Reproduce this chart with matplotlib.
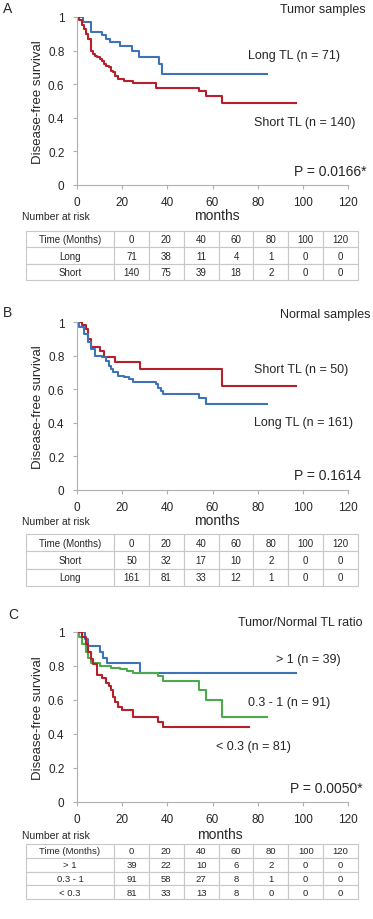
import matplotlib.pyplot as plt

plt.rcParams['font.family'] = ['Liberation Sans', 'DejaVu Sans']

# ---- data ----
# Panel A: tumor samples
a_long_t = [0, 2.5, 6, 11, 13, 14.5, 19, 24.5, 27.5, 36.5, 37.5, 84]
a_long_s = [1, 0.97, 0.91, 0.89, 0.87, 0.85, 0.83, 0.80, 0.76, 0.72, 0.66, 0.66]
a_short_t = [0, 1, 2, 3, 4, 5, 6, 7, 8, 9, 10, 11, 12, 13, 14, 15, 16, 17, 18,
             21, 25, 35, 54, 57, 64, 97]
a_short_s = [1, 0.98, 0.95, 0.93, 0.90, 0.87, 0.80, 0.78, 0.77, 0.76, 0.75, 0.74,
             0.72, 0.71, 0.70, 0.68, 0.67, 0.65, 0.63, 0.62, 0.61, 0.58, 0.56,
             0.53, 0.49, 0.49]

# Panel B: normal samples
b_short_t = [0, 2, 4, 5, 6, 10, 12, 17, 28, 64, 97]
b_short_s = [1, 0.98, 0.96, 0.90, 0.85, 0.83, 0.79, 0.76, 0.72, 0.62, 0.62]
b_long_t = [0, 1, 3, 5, 6, 8, 11, 13, 14, 15, 16, 18, 21, 23, 25, 35, 36, 37, 38,
            54, 57, 84]
b_long_s = [1, 0.97, 0.93, 0.88, 0.84, 0.80, 0.79, 0.77, 0.74, 0.72, 0.70, 0.68,
            0.67, 0.66, 0.64, 0.63, 0.61, 0.59, 0.57, 0.55, 0.51, 0.51]

# Panel C: tumor/normal TL ratio
c_hi_t = [0, 3.5, 5, 10, 11.5, 13.5, 28, 97]
c_hi_s = [1, 0.96, 0.92, 0.88, 0.85, 0.82, 0.76, 0.76]
c_mid_t = [0, 1, 2, 4, 5, 6, 10, 15, 19, 22, 25, 36, 38, 54, 57, 64, 84]
c_mid_s = [1, 0.97, 0.93, 0.88, 0.85, 0.82, 0.80, 0.79, 0.78, 0.77, 0.76, 0.74,
           0.71, 0.66, 0.60, 0.50, 0.50]
c_lo_t = [0, 2, 4, 5, 6, 7, 9, 11, 13, 14, 15, 16, 17, 18, 20, 25, 36, 38, 76]
c_lo_s = [1, 0.97, 0.93, 0.88, 0.84, 0.81, 0.75, 0.73, 0.70, 0.68, 0.66, 0.62,
          0.59, 0.56, 0.54, 0.50, 0.47, 0.44, 0.44]

# numbers at risk
risk_times = ['0', '20', '40', '60', '80', '100', '120']
a_risk_names = ['Long', 'Short']
a_risk = [[71, 38, 11, 4, 1, 0, 0], [140, 75, 39, 18, 2, 0, 0]]
b_risk_names = ['Short', 'Long']
b_risk = [[50, 32, 17, 10, 2, 0, 0], [161, 81, 33, 12, 1, 0, 0]]
c_risk_names = ['> 1', '0.3 - 1', '< 0.3']
c_risk = [[39, 22, 10, 6, 2, 0, 0], [91, 58, 27, 8, 1, 0, 0], [81, 33, 13, 8, 0, 0, 0]]

BLUE = '#3f73b8'
RED = '#b5202b'
GREEN = '#4caa4c'
TXT = '#262626'
GRID = '#b0b0b0'

W, H = 373, 920
fig = plt.figure(figsize=(W / 100, H / 100), dpi=100)


def fx(px):
    return px / W


def fy(py):
    return 1 - py / H


def km_axes(top, bottom):
    ax = fig.add_axes([fx(77), fy(bottom), fx(348) - fx(77), fy(top) - fy(bottom)])
    ax.set_xlim(0, 120)
    ax.set_ylim(0, 1)
    ax.set_xticks(range(0, 121, 20))
    ax.set_yticks([0, 0.2, 0.4, 0.6, 0.8, 1])
    ax.set_yticklabels(['0', '0.2', '0.4', '0.6', '0.8', '1'])
    for s in ['top', 'right']:
        ax.spines[s].set_visible(False)
    for s in ['left', 'bottom']:
        ax.spines[s].set_color(GRID)
        ax.spines[s].set_linewidth(0.8)
    ax.tick_params(colors=GRID, labelcolor=TXT, labelsize=8.5, length=3, width=0.8)
    ax.tick_params(axis='x', pad=5)
    ax.tick_params(axis='y', pad=6)
    ax.set_ylabel('Disease-free survival', fontsize=9.5, color=TXT, labelpad=3)
    return ax


def risk_table(top, bottom, names, rows, fs=7):
    tax = fig.add_axes([fx(26), fy(bottom), fx(358) - fx(26), fy(top) - fy(bottom)])
    tax.axis('off')
    cells = [['Time (Months)'] + risk_times] + [[n] + [str(v) for v in r]
                                                for n, r in zip(names, rows)]
    first = 88 / 332
    rest = (1 - first) / len(risk_times)
    tb = tax.table(cellText=cells, cellLoc='center', bbox=[0, 0, 1, 1],
                   colWidths=[first] + [rest] * len(risk_times))
    tb.auto_set_font_size(False)
    tb.set_fontsize(fs)
    for cell in tb.get_celld().values():
        cell.set_edgecolor('#c8c8c8')
        cell.set_linewidth(0.8)
        cell.get_text().set_color(TXT)
    return tax


lw = 1.5

# ---------------- Panel A ----------------
ax = km_axes(18, 186)
ax.step(a_long_t, a_long_s, where='post', color=BLUE, lw=lw)
ax.step(a_short_t, a_short_s, where='post', color=RED, lw=lw)
fig.text(fx(3), fy(9), 'A', fontsize=10, color=TXT, va='center')
fig.text(fx(366), fy(10), 'Tumor samples', fontsize=9, color=TXT, ha='right', va='center')
fig.text(fx(248), fy(56), 'Long TL (n = 71)', fontsize=9, color=TXT, va='center')
fig.text(fx(254), fy(123), 'Short TL (n = 140)', fontsize=9, color=TXT, va='center')
fig.text(fx(366), fy(172), 'P = 0.0166*', fontsize=10, color=TXT, ha='right', va='center')
fig.text(fx(217), fy(216), 'months', fontsize=10, color=TXT, ha='center', va='center')
fig.text(fx(22), fy(217), 'Number at risk', fontsize=7.5, color=TXT, va='center')
risk_table(232, 281, a_risk_names, a_risk)

# ---------------- Panel B ----------------
ax = km_axes(323, 491)
ax.step(b_short_t, b_short_s, where='post', color=RED, lw=lw)
ax.step(b_long_t, b_long_s, where='post', color=BLUE, lw=lw)
fig.text(fx(3), fy(313), 'B', fontsize=10, color=TXT, va='center')
fig.text(fx(370), fy(315), 'Normal samples', fontsize=9, color=TXT, ha='right', va='center')
fig.text(fx(254), fy(370), 'Short TL (n = 50)', fontsize=9, color=TXT, va='center')
fig.text(fx(254), fy(423), 'Long TL (n = 161)', fontsize=9, color=TXT, va='center')
fig.text(fx(361), fy(476), 'P = 0.1614', fontsize=10, color=TXT, ha='right', va='center')
fig.text(fx(217), fy(521), 'months', fontsize=10, color=TXT, ha='center', va='center')
fig.text(fx(22), fy(522), 'Number at risk', fontsize=7.5, color=TXT, va='center')
risk_table(535, 587, b_risk_names, b_risk)

# ---------------- Panel C ----------------
ax = km_axes(633, 803)
ax.step(c_hi_t, c_hi_s, where='post', color=BLUE, lw=lw)
ax.step(c_mid_t, c_mid_s, where='post', color=GREEN, lw=lw)
ax.step(c_lo_t, c_lo_s, where='post', color=RED, lw=lw)
fig.text(fx(8), fy(615), 'C', fontsize=10, color=TXT, va='center')
fig.text(fx(362), fy(623), 'Tumor/Normal TL ratio', fontsize=9, color=TXT, ha='right', va='center')
fig.text(fx(276), fy(660), '> 1 (n = 39)', fontsize=9, color=TXT, va='center')
fig.text(fx(248), fy(703), '0.3 - 1 (n = 91)', fontsize=9, color=TXT, va='center')
fig.text(fx(216), fy(747), '< 0.3 (n = 81)', fontsize=9, color=TXT, va='center')
fig.text(fx(363), fy(789), 'P = 0.0050*', fontsize=10, color=TXT, ha='right', va='center')
fig.text(fx(220), fy(835), 'months', fontsize=10, color=TXT, ha='center', va='center')
fig.text(fx(22), fy(836), 'Number at risk', fontsize=7.5, color=TXT, va='center')
risk_table(845, 900, c_risk_names, c_risk, fs=6.8)

fig.savefig('out.png', dpi=100)
